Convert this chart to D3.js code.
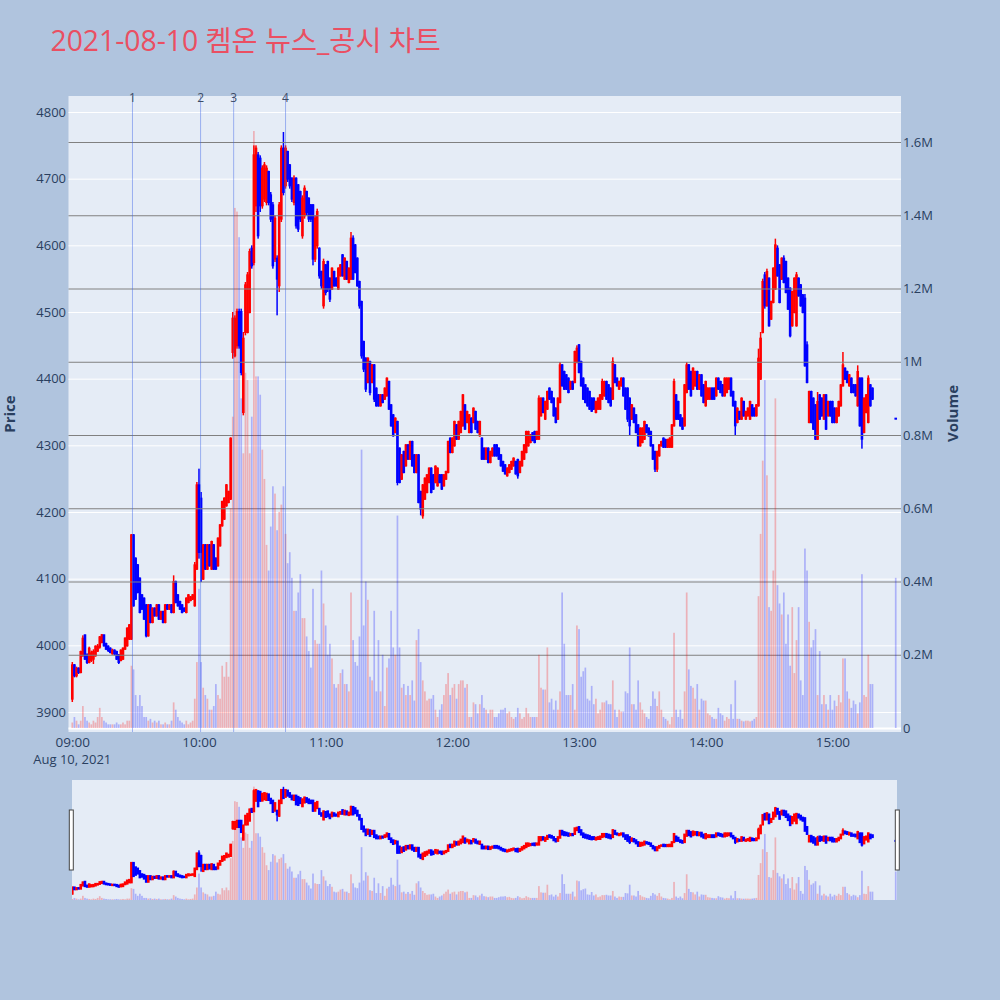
<!DOCTYPE html>
<html><head><meta charset="utf-8">
<script src="https://cdn.jsdelivr.net/npm/d3@7"></script>
<style>body{margin:0;background:#b0c4de;} svg{display:block}</style>
</head><body><svg id="c" width="1000" height="1000"></svg>
<script>
const title = "2021-08-10 켐온 뉴스_공시 차트";
const sessionDate = "2021-08-10";
const firstMinute = "09:00";
// one entry per minute, 09:00 .. 15:19
const open = [
3920,3970,3955,3965,3960,3985,4015,3985,3975,3978,
3980,3985,3992,3998,4005,4015,4002,3998,3995,3988,
3992,3990,3985,3978,3980,3995,4000,4010,4010,4165,
4130,4120,4100,4075,4070,4060,4015,4060,4035,4055,
4045,4060,4040,4050,4035,4060,4055,4060,4050,4095,
4075,4065,4060,4055,4050,4065,4068,4070,4060,4115,
4240,4220,4100,4150,4115,4150,4115,4150,4130,4120,
4150,4180,4190,4210,4215,4220,4440,4435,4450,4500,
4500,4350,4470,4470,4500,4595,4575,4660,4735,4730,
4660,4670,4665,4710,4675,4660,4580,4580,4540,4640,
4745,4690,4740,4720,4700,4665,4700,4690,4680,4615,
4645,4680,4670,4660,4660,4580,4600,4595,4560,4510,
4570,4575,4550,4535,4560,4550,4535,4555,4585,4550,
4575,4545,4550,4610,4600,4580,4545,4515,4455,4430,
4395,4425,4395,4420,4385,4375,4360,4375,4370,4375,
4395,4360,4345,4320,4335,4295,4250,4290,4270,4300,
4280,4305,4285,4260,4285,4230,4195,4220,4230,4245,
4265,4255,4245,4240,4255,4255,4240,4250,4260,4310,
4290,4300,4330,4310,4320,4330,4360,4335,4320,4340,
4335,4350,4335,4315,4310,4295,4280,4295,4275,4285,
4300,4300,4295,4285,4275,4270,4255,4260,4265,4270,
4275,4278,4260,4270,4280,4290,4300,4305,4318,4320,
4310,4310,4345,4370,4340,4355,4385,4380,4370,4355,
4340,4365,4420,4410,4405,4400,4385,4395,4395,4425,
4450,4425,4400,4390,4385,4380,4370,4370,4350,4355,
4355,4370,4375,4395,4390,4385,4370,4420,4400,4385,
4390,4400,4385,4385,4370,4340,4355,4345,4330,4300,
4305,4310,4330,4325,4320,4300,4290,4265,4285,4300,
4310,4308,4298,4298,4298,4330,4375,4365,4345,4340,
4330,4380,4420,4410,4385,4390,4410,4385,4405,4390,
4360,4370,4370,4385,4385,4375,4400,4395,4390,4375,
4380,4385,4400,4380,4365,4335,4350,4340,4365,4340,
4345,4340,4360,4355,4345,4360,4400,4470,4555,4510,
4550,4490,4515,4535,4595,4570,4550,4580,4575,4550,
4535,4480,4500,4480,4550,4540,4525,4520,4450,4335,
4380,4370,4360,4310,4375,4370,4340,4375,4345,4365,
4365,4355,4335,4345,4360,4390,4415,4410,4390,4400,
4390,4390,4360,4400,4400,4320,4350,4335,4390,4385];
const high = [
3975,3972,3968,3967,3992,4015,4016,3988,3998,3992,
3994,4000,4002,4014,4017,4016,4004,4000,3997,3995,
3994,3992,3987,3994,3997,4012,4027,4032,4167,4167,
4132,4122,4102,4077,4072,4062,4062,4062,4057,4057,
4062,4062,4052,4052,4062,4062,4062,4062,4105,4097,
4077,4067,4062,4057,4072,4077,4074,4077,4125,4245,
4265,4230,4152,4152,4152,4152,4157,4152,4132,4162,
4182,4217,4222,4242,4232,4312,4500,4495,4505,4505,
4505,4470,4545,4560,4595,4600,4750,4750,4740,4735,
4720,4725,4720,4712,4680,4665,4645,4585,4665,4750,
4770,4750,4742,4722,4702,4705,4702,4692,4682,4675,
4690,4682,4672,4662,4662,4645,4655,4597,4562,4580,
4572,4577,4552,4567,4562,4552,4567,4572,4587,4582,
4577,4567,4620,4615,4602,4582,4547,4517,4457,4432,
4432,4427,4422,4422,4387,4377,4377,4377,4387,4402,
4397,4362,4347,4342,4337,4297,4287,4292,4302,4302,
4307,4307,4287,4287,4287,4232,4242,4252,4257,4267,
4267,4257,4270,4267,4257,4257,4257,4262,4307,4312,
4312,4337,4332,4337,4352,4377,4362,4352,4347,4342,
4357,4352,4337,4337,4312,4297,4297,4297,4292,4297,
4302,4302,4297,4287,4277,4272,4267,4272,4277,4282,
4277,4280,4277,4292,4302,4322,4322,4317,4320,4322,
4322,4375,4372,4372,4367,4382,4387,4382,4372,4357,
4372,4425,4422,4412,4407,4402,4397,4397,4442,4450,
4452,4427,4402,4392,4387,4382,4372,4372,4367,4372,
4377,4400,4397,4397,4392,4387,4432,4422,4402,4397,
4402,4402,4387,4387,4372,4362,4357,4347,4332,4327,
4327,4337,4332,4327,4322,4302,4292,4292,4302,4307,
4312,4310,4310,4312,4332,4400,4377,4367,4347,4342,
4392,4425,4422,4412,4417,4412,4412,4407,4407,4392,
4397,4387,4387,4387,4387,4402,4402,4397,4392,4402,
4402,4402,4402,4382,4367,4357,4352,4372,4367,4352,
4357,4367,4362,4357,4362,4445,4470,4550,4560,4565,
4552,4517,4567,4610,4600,4572,4582,4585,4577,4552,
4537,4532,4552,4560,4552,4542,4527,4527,4456,4382,
4382,4372,4362,4380,4377,4372,4377,4377,4367,4367,
4367,4357,4357,4367,4392,4440,4417,4412,4407,4402,
4392,4392,4420,4402,4402,4372,4377,4405,4392,4387];
const low = [
3915,3952,3952,3957,3958,3983,3978,3972,3973,3975,
3972,3983,3990,3995,4003,3998,3993,3990,3988,3986,
3985,3978,3972,3976,3978,3993,3998,4008,4008,4058,
4068,4078,4048,4053,4038,4012,4013,4033,4033,4043,
4043,4038,4038,4033,4033,4053,4053,4048,4048,4063,
4058,4053,4048,4050,4048,4063,4066,4068,4058,4113,
4130,4095,4098,4113,4113,4118,4113,4113,4113,4118,
4148,4178,4188,4208,4213,4218,4430,4432,4445,4445,
4405,4345,4465,4468,4498,4565,4570,4650,4610,4650,
4655,4665,4660,4660,4635,4565,4575,4495,4530,4635,
4675,4685,4695,4685,4665,4660,4625,4620,4635,4610,
4640,4645,4635,4635,4570,4575,4595,4550,4535,4505,
4525,4530,4515,4533,4538,4538,4533,4553,4553,4548,
4548,4543,4548,4548,4558,4538,4505,4430,4410,4380,
4393,4375,4393,4365,4358,4358,4358,4363,4368,4373,
4353,4328,4313,4318,4240,4243,4248,4258,4268,4278,
4278,4268,4258,4258,4213,4195,4190,4218,4228,4243,
4228,4233,4243,4238,4243,4233,4238,4248,4258,4288,
4288,4298,4308,4308,4318,4328,4323,4333,4318,4318,
4333,4323,4318,4313,4278,4278,4278,4273,4273,4283,
4283,4283,4278,4268,4260,4256,4253,4258,4263,4268,
4256,4250,4258,4268,4278,4288,4298,4303,4306,4303,
4308,4308,4343,4348,4338,4353,4368,4363,4343,4333,
4338,4363,4388,4383,4383,4378,4383,4383,4393,4423,
4408,4388,4368,4363,4358,4353,4350,4353,4348,4353,
4353,4368,4373,4368,4363,4358,4368,4393,4388,4383,
4388,4373,4353,4335,4315,4338,4333,4318,4298,4298,
4303,4308,4318,4313,4298,4278,4260,4260,4283,4298,
4296,4296,4296,4296,4296,4328,4338,4338,4328,4323,
4328,4378,4383,4373,4383,4388,4383,4383,4373,4363,
4358,4368,4368,4368,4368,4373,4383,4378,4373,4373,
4378,4383,4373,4358,4315,4333,4338,4338,4343,4338,
4343,4338,4343,4343,4343,4358,4398,4468,4505,4508,
4478,4488,4513,4533,4553,4513,4548,4543,4528,4503,
4462,4478,4498,4478,4523,4508,4498,4418,4393,4333,
4333,4323,4308,4308,4338,4343,4338,4323,4343,4343,
4333,4333,4333,4343,4358,4388,4398,4393,4388,4378,
4378,4373,4358,4328,4295,4318,4348,4333,4358,4368];
const close = [
3970,3955,3965,3960,3990,4010,3980,3975,3995,3988,
3990,3998,3998,4012,4015,4000,3995,3993,3990,3992,
3988,3980,3975,3992,3995,4010,4025,4030,4165,4060,
4070,4080,4050,4055,4040,4015,4060,4035,4055,4045,
4060,4040,4050,4035,4060,4055,4060,4050,4095,4065,
4060,4055,4050,4052,4070,4075,4072,4075,4120,4240,
4140,4140,4150,4115,4150,4120,4155,4115,4115,4160,
4180,4215,4220,4240,4230,4310,4490,4490,4500,4450,
4410,4460,4540,4555,4590,4570,4735,4745,4615,4660,
4715,4720,4715,4665,4640,4570,4640,4550,4660,4745,
4680,4745,4700,4690,4670,4700,4630,4625,4640,4670,
4685,4650,4640,4640,4580,4640,4650,4555,4540,4575,
4530,4535,4520,4565,4540,4540,4565,4570,4555,4580,
4550,4565,4610,4550,4560,4540,4510,4435,4415,4385,
4430,4380,4420,4370,4360,4360,4375,4365,4385,4400,
4355,4330,4315,4340,4245,4245,4285,4260,4300,4280,
4305,4270,4260,4285,4215,4205,4240,4250,4255,4265,
4230,4235,4268,4265,4245,4235,4255,4260,4305,4290,
4310,4335,4310,4335,4350,4375,4325,4350,4345,4320,
4355,4325,4320,4335,4280,4280,4295,4275,4290,4295,
4285,4285,4280,4270,4262,4258,4265,4270,4275,4280,
4258,4255,4275,4290,4300,4320,4320,4315,4308,4305,
4320,4370,4370,4350,4365,4380,4370,4365,4345,4335,
4370,4420,4390,4385,4385,4380,4395,4385,4440,4445,
4410,4390,4370,4365,4360,4355,4352,4355,4365,4370,
4375,4395,4395,4370,4365,4360,4425,4395,4390,4395,
4400,4375,4355,4340,4330,4360,4335,4320,4300,4325,
4325,4335,4320,4315,4300,4280,4265,4290,4300,4305,
4298,4298,4308,4310,4330,4395,4340,4340,4330,4325,
4390,4420,4385,4375,4415,4410,4385,4405,4375,4365,
4395,4385,4385,4370,4370,4400,4385,4380,4375,4400,
4400,4400,4375,4360,4330,4355,4340,4370,4345,4350,
4355,4365,4345,4345,4360,4430,4460,4545,4510,4560,
4480,4515,4565,4600,4555,4515,4580,4545,4530,4505,
4465,4530,4550,4555,4525,4510,4500,4420,4395,4380,
4335,4325,4310,4365,4340,4345,4375,4325,4365,4345,
4335,4335,4355,4365,4390,4420,4400,4395,4405,4380,
4380,4375,4410,4330,4310,4370,4375,4400,4360,4370];
const volume = [
15000,30000,20000,10000,20000,60000,30000,20000,15000,10000,
20000,15000,30000,55000,30000,20000,15000,10000,10000,10000,
10000,15000,10000,10000,15000,10000,20000,20000,170000,160000,
90000,60000,90000,60000,30000,30000,20000,25000,15000,20000,
15000,20000,10000,10000,15000,10000,10000,20000,70000,50000,
30000,20000,15000,10000,20000,10000,15000,20000,80000,180000,
380000,180000,110000,90000,80000,50000,50000,60000,120000,90000,
80000,170000,140000,180000,140000,600000,850000,1420000,1410000,1340000,
900000,750000,970000,950000,750000,850000,1630000,960000,960000,910000,
760000,680000,500000,430000,550000,660000,640000,540000,590000,610000,
660000,530000,450000,480000,410000,320000,320000,370000,420000,300000,
300000,250000,210000,165000,380000,240000,230000,230000,430000,340000,
280000,200000,230000,190000,120000,110000,120000,150000,160000,120000,
120000,100000,370000,240000,180000,170000,250000,760000,280000,400000,
350000,140000,130000,320000,100000,240000,100000,200000,60000,165000,
190000,320000,220000,200000,580000,220000,110000,120000,90000,115000,
90000,130000,75000,240000,270000,180000,130000,100000,75000,80000,
80000,90000,50000,30000,50000,65000,90000,120000,150000,90000,
110000,120000,80000,120000,130000,130000,110000,120000,30000,30000,
70000,65000,40000,65000,90000,55000,50000,40000,50000,50000,
30000,30000,40000,50000,50000,55000,40000,45000,30000,25000,
30000,55000,40000,25000,30000,55000,40000,30000,30000,30000,
30000,200000,110000,105000,105000,220000,70000,80000,50000,75000,
50000,100000,370000,230000,90000,90000,90000,120000,50000,280000,
270000,140000,155000,165000,80000,75000,115000,65000,80000,40000,
50000,70000,70000,75000,65000,65000,130000,50000,30000,50000,
45000,45000,100000,95000,220000,65000,65000,50000,130000,70000,
50000,40000,30000,25000,60000,100000,80000,60000,100000,50000,
30000,25000,20000,10000,30000,260000,50000,30000,50000,25000,
100000,370000,160000,115000,110000,80000,120000,50000,80000,75000,
75000,40000,35000,30000,25000,25000,55000,40000,35000,20000,
30000,25000,65000,25000,130000,25000,25000,20000,18000,20000,
20000,18000,20000,25000,30000,360000,530000,730000,950000,690000,
330000,320000,430000,900000,390000,340000,310000,370000,230000,310000,
170000,330000,150000,240000,330000,130000,90000,490000,430000,290000,
220000,240000,270000,90000,210000,65000,90000,65000,50000,90000,
50000,75000,60000,90000,70000,190000,190000,100000,80000,55000,
75000,65000,40000,70000,420000,90000,85000,200000,120000,120000];
// closing auction
const auctionTime = "15:30";
const auctionOpen = 4340, auctionHigh = 4340, auctionLow = 4340, auctionClose = 4340, auctionVolume = 410000;

const newsTimes = ["09:28:30","10:00:45","10:16:25","10:41:00"];
const newsLabels = ["1","2","3","4"];
const priceTicks = [3900,4000,4100,4200,4300,4400,4500,4600,4700,4800];
const volumeTicks = [0,200000,400000,600000,800000,1000000,1200000,1400000,1600000];
const timeTicks = ["09:00","10:00","11:00","12:00","13:00","14:00","15:00"];

const UP = "#ff0000", DOWN = "#0000ff", FONT = "'Open Sans','Noto Sans CJK KR',sans-serif", INK = "#2a3f5f";
const svg = d3.select("#c");
const plot = {l:68.5, r:901, t:96, b:732};
const sl = {l:72, r:897, t:780, b:900};
const parseT = d3.timeParse("%Y-%m-%d %H:%M:%S");
const t0 = parseT(sessionDate + " " + firstMinute + ":00");
const candles = open.map((o,i) => ({t: d3.timeMinute.offset(t0, i), o, h: high[i], l: low[i], c: close[i], v: volume[i]}));
candles.push({t: parseT(sessionDate + " " + auctionTime + ":00"), o: auctionOpen, h: auctionHigh, l: auctionLow, c: auctionClose, v: auctionVolume});
const col = d => d.c > d.o ? UP : DOWN;

const x = d3.scaleTime().domain([parseT(sessionDate+" 08:58:12"), parseT(sessionDate+" 15:32:30")]).range([plot.l, plot.r]);
const y = d3.scaleLinear().domain([3870, 4824]).range([plot.b, plot.t]);
const yv = d3.scaleLinear().domain([-10900, 1725600]).range([plot.b, plot.t]);
const ys = d3.scaleLinear().domain([3870, 4824]).range([sl.b, sl.t]);
const yvs = d3.scaleLinear().domain([0, 1725600]).range([sl.b, sl.t]);

svg.append("rect").attr("width",1000).attr("height",1000).attr("fill","#b0c4de");
svg.append("text").attr("x",50.5).attr("y",51).attr("fill","#ea4f62")
  .style("font-family",FONT).style("font-size","28.3px").text(title);

svg.append("rect").attr("x",plot.l).attr("y",plot.t).attr("width",plot.r-plot.l).attr("height",plot.b-plot.t).attr("fill","#e5ecf6");
const defs = svg.append("defs");
defs.append("clipPath").attr("id","pc").append("rect").attr("x",plot.l).attr("y",plot.t).attr("width",plot.r-plot.l).attr("height",plot.b-plot.t);
defs.append("clipPath").attr("id","sc").append("rect").attr("x",sl.l).attr("y",sl.t).attr("width",sl.r-sl.l).attr("height",sl.b-sl.t);

// price axis + white grid
const gy = svg.append("g").attr("transform",`translate(${plot.l},0)`)
  .call(d3.axisLeft(y).tickValues(priceTicks).tickSize(-(plot.r-plot.l)).tickPadding(2.5).tickFormat(d3.format("d")));
gy.select(".domain").remove();
gy.selectAll("line").attr("stroke","#ffffff").attr("stroke-width",1);
gy.selectAll("text").attr("fill",INK).style("font-family",FONT).style("font-size","13px");

function drawCandles(g, ysc, bw, ww) {
  g.selectAll("rect.wick").data(candles).join("rect").attr("class","wick")
    .attr("x", d => x(d.t) - ww/2).attr("width", ww)
    .attr("y", d => ysc(d.h)).attr("height", d => Math.max(0.5, ysc(d.l) - ysc(d.h)))
    .attr("fill", col);
  g.selectAll("rect.body").data(candles).join("rect").attr("class","body")
    .attr("x", d => x(d.t) - bw/2).attr("width", bw)
    .attr("y", d => ysc(Math.max(d.o, d.c)) - 1).attr("height", d => Math.abs(ysc(d.o) - ysc(d.c)) + 2)
    .attr("fill", col);
}
function drawVolume(g, ysc, w) {
  g.selectAll("rect.vol").data(candles).join("rect").attr("class","vol")
    .attr("x", d => x(d.t) - w/2).attr("width", w)
    .attr("y", d => ysc(d.v)).attr("height", d => ysc(0) - ysc(d.v))
    .attr("fill", col).attr("fill-opacity", 0.25);
}

drawCandles(svg.append("g").attr("clip-path","url(#pc)"), y, 2.6, 1.5);

// volume axis + grey grid
const gv = svg.append("g").attr("transform",`translate(${plot.r},0)`)
  .call(d3.axisRight(yv).tickValues(volumeTicks).tickSize(-(plot.r-plot.l)).tickPadding(2)
    .tickFormat(v => v === 0 ? "0" : (v/1e6) + "M"));
gv.select(".domain").remove();
gv.selectAll("line").attr("stroke", d => d === 0 ? "#ffffff" : "#808080").attr("stroke-width", d => d === 0 ? 2 : 1);
gv.selectAll("text").attr("fill",INK).style("font-family",FONT).style("font-size","13px");

drawVolume(svg.append("g").attr("clip-path","url(#pc)"), yv, 1.7);

// news markers
const news = newsTimes.map((s,i) => ({t: parseT(sessionDate+" "+s), label: newsLabels[i]}));
svg.append("g").selectAll("line").data(news).join("line")
  .attr("x1", d => x(d.t)).attr("x2", d => x(d.t)).attr("y1", plot.t).attr("y2", plot.b)
  .attr("stroke","rgba(60,100,230,0.45)").attr("stroke-width",1);
svg.append("g").selectAll("text").data(news).join("text")
  .attr("x", d => x(d.t)).attr("y", 101.5).attr("text-anchor","middle")
  .attr("fill","#3d4c66").style("font-family",FONT).style("font-size","12px").text(d => d.label);

// time axis
const gx = svg.append("g").attr("transform",`translate(0,${plot.b})`)
  .call(d3.axisBottom(x).tickValues(timeTicks.map(s => parseT(sessionDate+" "+s+":00"))).tickSize(0).tickPadding(5)
    .tickFormat(d3.timeFormat("%H:%M")));
gx.select(".domain").remove();
gx.selectAll("text").attr("fill",INK).style("font-family",FONT).style("font-size","13.5px");
svg.append("text").attr("x", x(t0)).attr("y", 764).attr("text-anchor","middle")
  .attr("fill",INK).style("font-family",FONT).style("font-size","13px").text(d3.timeFormat("%b %d, %Y")(t0));

// axis titles
svg.append("text").attr("transform","translate(15,414) rotate(-90)").attr("text-anchor","middle")
  .attr("fill",INK).style("font-family",FONT).style("font-size","15px").style("font-weight","bold").text("Price");
svg.append("text").attr("transform","translate(957.5,413.5) rotate(-90)").attr("text-anchor","middle")
  .attr("fill",INK).style("font-family",FONT).style("font-size","15px").style("font-weight","bold").text("Volume");

// range slider
svg.append("rect").attr("x",sl.l).attr("y",sl.t).attr("width",sl.r-sl.l).attr("height",sl.b-sl.t).attr("fill","#e5ecf6");
const sg = svg.append("g").attr("clip-path","url(#sc)");
drawCandles(sg.append("g"), ys, 2.6, 1.5);
drawVolume(sg.append("g"), yvs, 1.7);
[sl.l - 2.7, sl.r - 1.7].forEach(hx => {
  svg.append("rect").attr("x", hx).attr("y", 810).attr("width", 4).attr("height", 60)
    .attr("fill","#ffffff").attr("stroke","#444").attr("stroke-width",1);
});
</script></body></html>
